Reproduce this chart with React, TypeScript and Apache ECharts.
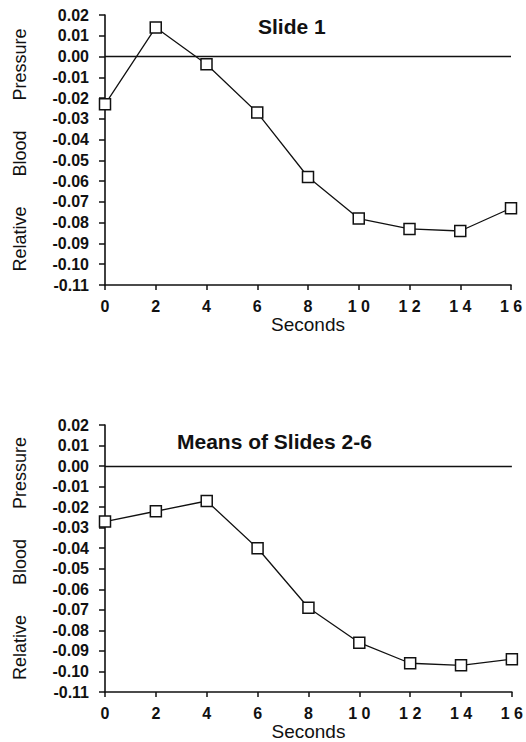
import React, { useEffect, useRef } from "react";
import * as echarts from "echarts";

const seconds = [0, 2, 4, 6, 8, 10, 12, 14, 16];
const slide1Values = [-0.023, 0.014, -0.0037, -0.027, -0.058, -0.078, -0.083, -0.084, -0.073];
const meansValues = [-0.027, -0.022, -0.017, -0.040, -0.069, -0.086, -0.096, -0.097, -0.094];
const titles = ["Slide 1", "Means of Slides 2-6"];
const yName = "Relative      Blood      Pressure";
const xName = "Seconds";

const FONT = "'Liberation Sans', Arial, Helvetica, sans-serif";
const INK = "#111";

function xLabel(v: number): string {
  const s = String(v);
  return s.length > 1 ? s.split("").join(" ") : s;
}

export default function App() {
  const ref = useRef<HTMLDivElement>(null);
  useEffect(() => {
    if (!ref.current) return;
    const chart = echarts.init(ref.current, undefined, { renderer: "svg" });
    const grids = [
      { left: 105, top: 15, width: 406, height: 270 },
      { left: 105, top: 425, width: 407, height: 267 },
    ];
    const makeX = (i: number) => ({
      type: "value" as const,
      gridIndex: i,
      min: 0,
      max: 16,
      interval: 2,
      name: xName,
      nameLocation: "middle" as const,
      nameGap: 30,
      nameTextStyle: { fontFamily: FONT, fontSize: 19, color: INK },
      axisLine: { show: true, onZero: false, lineStyle: { color: INK, width: 1.6 } },
      axisTick: { show: true, inside: false, length: 5, lineStyle: { color: INK, width: 1.5 } },
      axisLabel: {
        margin: 13,
        fontFamily: FONT,
        fontSize: 16,
        fontWeight: "bold" as const,
        color: INK,
        formatter: (v: number) => xLabel(v),
      },
      splitLine: { show: false },
    });
    const makeY = (i: number) => ({
      type: "value" as const,
      gridIndex: i,
      min: -0.11,
      max: 0.02,
      interval: 0.01,
      name: yName,
      nameLocation: "middle" as const,
      nameRotate: 90,
      nameGap: 76,
      nameTextStyle: { fontFamily: FONT, fontSize: 18, color: INK },
      axisLine: { show: true, onZero: false, lineStyle: { color: INK, width: 1.6 } },
      axisTick: { show: true, inside: false, length: 6, lineStyle: { color: INK, width: 1.5 } },
      axisLabel: {
        margin: 16,
        fontFamily: FONT,
        fontSize: 16,
        fontWeight: "bold" as const,
        color: INK,
        formatter: (v: number) => (Math.abs(v) < 1e-9 ? "0.00" : v.toFixed(2)),
      },
      splitLine: { show: false },
    });
    const makeSeries = (i: number, vals: number[]) => ({
      type: "line" as const,
      xAxisIndex: i,
      yAxisIndex: i,
      data: seconds.map((s, k) => [s, vals[k]]),
      symbol: "rect",
      symbolSize: 11,
      showAllSymbol: true,
      clip: true,
      itemStyle: { color: "#fff", borderColor: INK, borderWidth: 1.5 },
      lineStyle: { color: INK, width: 1.3 },
      markLine: {
        silent: true,
        symbol: "none",
        label: { show: false },
        lineStyle: { color: INK, width: 1.3, type: "solid" as const },
        data: [{ yAxis: 0 }],
      },
      z: 3,
    });
    chart.setOption({
      animation: false,
      backgroundColor: "#fff",
      title: [
        {
          text: titles[0],
          left: 258,
          top: 16,
          padding: 0,
          textStyle: { fontFamily: FONT, fontSize: 21, fontWeight: "bold", color: INK },
        },
        {
          text: titles[1],
          left: 177,
          top: 431,
          padding: 0,
          textStyle: { fontFamily: FONT, fontSize: 21, fontWeight: "bold", color: INK },
        },
      ],
      grid: grids,
      xAxis: [makeX(0), makeX(1)],
      yAxis: [makeY(0), makeY(1)],
      series: [makeSeries(0, slide1Values), makeSeries(1, meansValues)],
    });
    return () => chart.dispose();
  }, []);
  return (
    <div
      ref={ref}
      style={{ position: "absolute", left: 0, top: 0, width: 526, height: 742, background: "#fff" }}
    />
  );
}
